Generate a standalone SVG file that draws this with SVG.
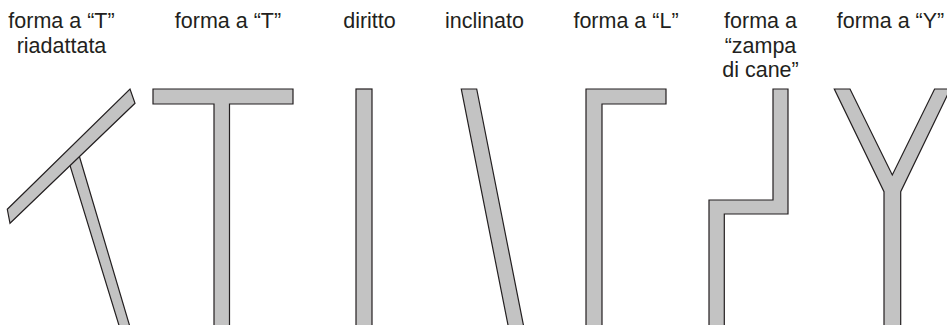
<svg xmlns="http://www.w3.org/2000/svg" width="947" height="325" viewBox="0 0 947 325">
<style>
.s{fill:#c3c3c3;stroke:#231f20;stroke-width:1.2;stroke-linejoin:miter}
.t{font-family:"Liberation Sans",Arial,sans-serif;font-size:21.5px;fill:#231f20;text-anchor:middle}
</style>
<rect width="947" height="325" fill="#fff"/>
<g id="labels">
<text class="t" x="61.5" y="28">forma a “T”</text>
<text class="t" x="61.5" y="52.5">riadattata</text>
<text class="t" x="228" y="28">forma a “T”</text>
<text class="t" x="369.5" y="28">diritto</text>
<text class="t" x="484.5" y="28">inclinato</text>
<text class="t" x="626" y="28">forma a “L”</text>
<text class="t" x="760.5" y="28">forma a</text>
<text class="t" x="760.5" y="52.5">“zampa</text>
<text class="t" x="760.5" y="77">di cane”</text>
<text class="t" x="890.5" y="28">forma a “Y”</text>
</g>
<g id="t-riadattata">
<polygon class="s" points="68.3,160 77.5,150 130,327 119.5,327"/>
<polygon class="s" points="7.3,209.3 130,89 135,103.3 10,223.3"/>
</g>
<g id="t-forma">
<polygon class="s" points="153,89 293,89 293,104 229.5,104 229.5,327 214,327 214,104 153,104"/>
</g>
<g id="diritto">
<rect class="s" x="356" y="89" width="16" height="238"/>
</g>
<g id="inclinato">
<polygon class="s" points="461.3,89 476.7,89 523.8,327 508.4,327"/>
</g>
<g id="l-forma">
<polygon class="s" points="586,89 666,89 666,104 602,104 602,327 586,327"/>
</g>
<g id="zampa">
<polygon class="s" points="773,89 788,89 788,214 724.3,214 724.3,327 709,327 709,200 773,200"/>
</g>
<g id="y-forma">
<polygon class="s" points="834.3,89 850,89 892.3,175 934.6,89 950.3,89 900.7,191.7 900.7,327 884,327 884,191.7"/>
</g>
<g id="connectors"></g>
</svg>
